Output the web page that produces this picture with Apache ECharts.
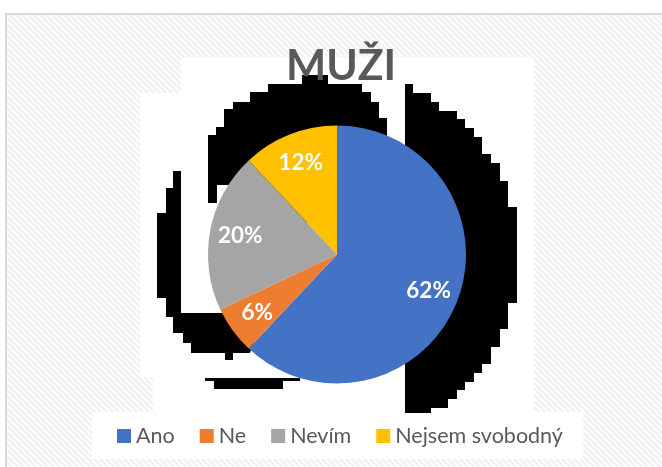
<!DOCTYPE html>
<html>
<head>
<meta charset="utf-8">
<script src="https://cdn.jsdelivr.net/npm/echarts@6/dist/echarts.min.js"></script>
<style>
  html, body { margin: 0; padding: 0; background: #fff; }
  #main { width: 662px; height: 467px; }
</style>
</head>
<body>
<div id="main"></div>
<script>
// data
const categories = ["Ano", "Ne", "Nevím", "Nejsem svobodný"];
const shares = [62, 6, 20, 12];
const colors = ["#4472C4", "#ED7D31", "#A5A5A5", "#FFC000"];

// black stepped "shadow" artefacts seen in the original picture
const blobRight = [[405,84],[413,84],[413,93],[431,93],[431,102],[439,102],[439,111],[457,111],[457,119],[465,119],[465,128],[474,128],[474,137],[482,137],[482,154],[491,154],[491,163],[500,163],[500,181],[508,181],[508,207],[517,207],[517,303],[508,303],[508,329],[500,329],[500,347],[491,347],[491,364],[482,364],[482,373],[474,373],[474,382],[465,382],[465,390],[457,390],[457,399],[448,399],[448,408],[431,408],[431,413],[405,413]];
const blobTop = [[302,75],[328,75],[328,84],[362,84],[362,92],[371,92],[371,102],[379,102],[379,118],[387,118],[387,140],[300,230],[230,185],[217,185],[217,203],[208,203],[208,135],[216,135],[216,127],[224,127],[224,109],[233,109],[233,102],[250,102],[250,92],[268,92],[268,84],[302,84]];
const blobLeft = [[173,171],[181,171],[181,313],[235,313],[255,340],[250,353],[191,353],[191,343],[183,343],[183,333],[173,333],[173,317],[166,317],[166,298],[157,298],[157,213],[166,213],[166,188],[173,188]];

// hatch pattern of the chart area
function makeHatch() {
  const c = document.createElement("canvas");
  c.width = 6; c.height = 6;
  const ctx = c.getContext("2d");
  const img = ctx.createImageData(6, 6);
  for (let y = 0; y < 6; y++) {
    for (let x = 0; x < 6; x++) {
      const v = ((x - y + 12) % 6) < 3 ? 241 : 253;
      const i = (y * 6 + x) * 4;
      img.data[i] = v; img.data[i + 1] = v; img.data[i + 2] = v; img.data[i + 3] = 255;
    }
  }
  ctx.putImageData(img, 0, 0);
  return c;
}

const myChart = echarts.init(document.getElementById("main"));

const blob = (pts) => ({
  type: "polygon",
  shape: { points: pts },
  style: { fill: "#000" },
  silent: true,
});

let option = {
  animation: false,
  backgroundColor: "#fff",
  graphic: {
    elements: [
      {
        type: "rect",
        shape: { x: 6, y: 14, width: 700, height: 500 },
        style: { fill: { image: makeHatch(), repeat: "repeat" }, stroke: "#d9d9d9", lineWidth: 2 },
        silent: true,
      },
      // white boxes behind title, plot and legend
      { type: "rect", shape: { x: 181, y: 57, width: 353, height: 40 }, style: { fill: "#fff" }, silent: true },
      { type: "rect", shape: { x: 140, y: 93, width: 394, height: 284 }, style: { fill: "#fff" }, silent: true },
      { type: "rect", shape: { x: 153, y: 93, width: 381, height: 320 }, style: { fill: "#fff" }, silent: true },
      { type: "rect", shape: { x: 92, y: 412, width: 491, height: 47 }, style: { fill: "#fff" }, silent: true },
      blob(blobRight),
      blob(blobTop),
      blob(blobLeft),
      { type: "rect", shape: { x: 225, y: 352, width: 8, height: 8 }, style: { fill: "#000" }, silent: true },
      { type: "rect", shape: { x: 205, y: 378, width: 95, height: 3 }, style: { fill: "#000" }, silent: true },
      { type: "rect", shape: { x: 214, y: 380, width: 69, height: 9 }, style: { fill: "#000" }, silent: true },
    ],
  },
  title: {
    text: "MUŽI",
    left: 336,
    top: 40,
    textAlign: "center",
    textStyle: {
      fontFamily: "Lato",
      fontWeight: "bold",
      fontSize: 42.5,
      color: "#595959",
    },
  },
  legend: {
    data: categories,
    left: 117,
    top: 425,
    padding: 0,
    icon: "rect",
    itemWidth: 14,
    itemHeight: 14,
    itemGap: 25,
    textStyle: { fontFamily: "Lato", fontSize: 21.5, color: "#595959" },
  },
  series: [
    {
      name: "MUŽI",
      type: "pie",
      center: [337, 254.5],
      radius: [0, 129],
      startAngle: 90,
      silent: true,
      label: { show: false },
      labelLine: { show: false },
      data: categories.map((name, i) => ({
        name: name,
        value: shares[i],
        itemStyle: { color: colors[i] },
      })),
    },
    {
      // transparent ring only used to put the labels at ~3/4 of the radius
      name: "labels",
      type: "pie",
      center: [337, 254.5],
      radius: [62, 129],
      startAngle: 90,
      silent: true,
      legendHoverLink: false,
      itemStyle: { color: "rgba(0,0,0,0)" },
      label: {
        show: true,
        position: "inside",
        formatter: "{c}%",
        color: "#fff",
        fontFamily: "Lato",
        fontWeight: "bold",
        fontSize: 22.5,
      },
      labelLine: { show: false },
      data: categories.map((name, i) => ({ name: name, value: shares[i] })),
    },
  ],
};

myChart.setOption(option);
</script>
</body>
</html>
